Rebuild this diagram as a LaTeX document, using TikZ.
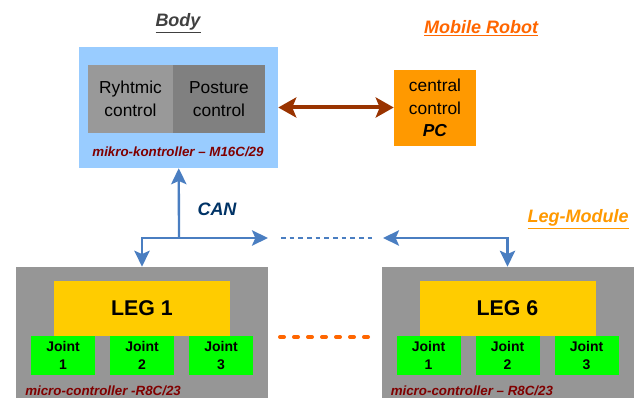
\documentclass[tikz,border=0pt]{standalone}
\usepackage{fontspec}
\setmainfont{Liberation Sans}
\usetikzlibrary{arrows.meta}
\definecolor{robsky}{RGB}{153,204,255}
\definecolor{robgrayA}{RGB}{153,153,153}
\definecolor{robgrayB}{RGB}{128,128,128}
\definecolor{robgray}{RGB}{150,150,150}
\definecolor{robpc}{RGB}{255,153,0}
\definecolor{robleg}{RGB}{255,204,0}
\definecolor{robjoint}{RGB}{0,255,0}
\definecolor{robbrown}{RGB}{153,51,0}
\definecolor{robblue}{RGB}{74,126,193}
\definecolor{robnavy}{RGB}{0,51,102}
\definecolor{robred}{RGB}{128,0,0}
\definecolor{robtitle}{RGB}{64,64,64}
\definecolor{roborange}{RGB}{255,102,0}

\begin{document}
\begin{tikzpicture}[x=0.75pt,y=-0.75pt,
  >={Stealth[length=12pt,width=11.5pt,inset=2.5pt]},
  box/.style={rectangle,inner sep=0pt,align=center},
  ctrl/.style={box,font=\fontsize{13}{17}\selectfont},
  heading/.style={font=\fontsize{13.5}{16}\selectfont\bfseries\itshape},
  chip/.style={font=\fontsize{10}{12}\selectfont\bfseries\itshape,text=robred},
  modbox/.style={box,fill=robgray,minimum width=189pt,minimum height=98.25pt},
  legbox/.style={box,fill=robleg,minimum width=132pt,minimum height=41.25pt,
    font=\fontsize{16}{18}\selectfont\bfseries},
  jointbox/.style={box,fill=robjoint,minimum width=48pt,minimum height=29.25pt,
    font=\fontsize{10.5}{13.5}\selectfont\bfseries},
  bus/.style={robblue,line width=1.75pt}]
  \useasboundingbox (0,0) rectangle (634,398);

  \node[heading,text=robtitle] (bodytitle) at (178,23) {\underline{Body}};
  \node[heading,text=roborange] (robottitle) at (481,28) {\underline{Mobile Robot}};
  \node[heading,text=robpc] (legtitle) at (578,219) {\underline{Leg-Module}};

  \node[box,fill=robsky,minimum width=149.25pt,minimum height=90.75pt] (body) at (178.5,107.5) {};
  \node[ctrl,fill=robgrayA,minimum width=63.75pt,minimum height=51pt] (rhythm) at (130.5,99) {Ryhtmic\\control};
  \node[ctrl,fill=robgrayB,minimum width=69pt,minimum height=51pt] (posture) at (219,99) {Posture\\control};
  \node[chip] (bodychip) at (178,152) {mikro-kontroller – M16C/29};

  \node[ctrl,fill=robpc,minimum width=61.5pt,minimum height=57pt] (pc) at (435,108) {central\\control\\\textbf{\textit{PC}}};
  \draw[robbrown,line width=3pt,{Stealth[length=13.5pt,width=15pt,inset=3pt]}-{Stealth[length=13.5pt,width=15pt,inset=3pt]}]
    (body.east) -- (pc.west |- body.east);

  \foreach \m/\cx/\chiptext in {1/142/{micro-controller -R8C/23},6/507.5/{micro-controller – R8C/23}} {
    \node[modbox] (mod\m) at (\cx,332.5) {};
    \node[legbox] (leg\m) at (\cx,308.5) {LEG \m};
    \foreach \j/\dx in {1/-79,2/0,3/79}
      \node[jointbox] (j\m\j) at (\cx+\dx,355.5) {Joint\\\j};
    \node[chip,anchor=west,inner sep=0pt] (chip\m) at (\cx-117,391) {\chiptext};
  }

  \node[heading,text=robnavy] (can) at (217,209) {CAN};
  \coordinate (bus) at (179,238);
  \coordinate (busend) at (268,238);
  \coordinate (dotL) at (281,238);
  \coordinate (dotR) at (373,238);
  \coordinate (bus6) at (383,238);
  \coordinate (dashL) at (280,337);
  \coordinate (dashR) at (372,337);

  \draw[bus,->] (bus) -- (body);
  \draw[bus,->] (bus) -| (mod1.north);
  \draw[bus,->] (bus) -- (busend);
  \draw[bus,<->] (bus6) -| (mod6.north);
  \draw[robblue,line width=1.5pt,dash pattern=on 3.5pt off 3pt] (dotL) -- (dotR);
  \draw[roborange,line width=3pt,line cap=round,dash pattern=on 3pt off 7.5pt] (dashL) -- (dashR);
\end{tikzpicture}
\end{document}
